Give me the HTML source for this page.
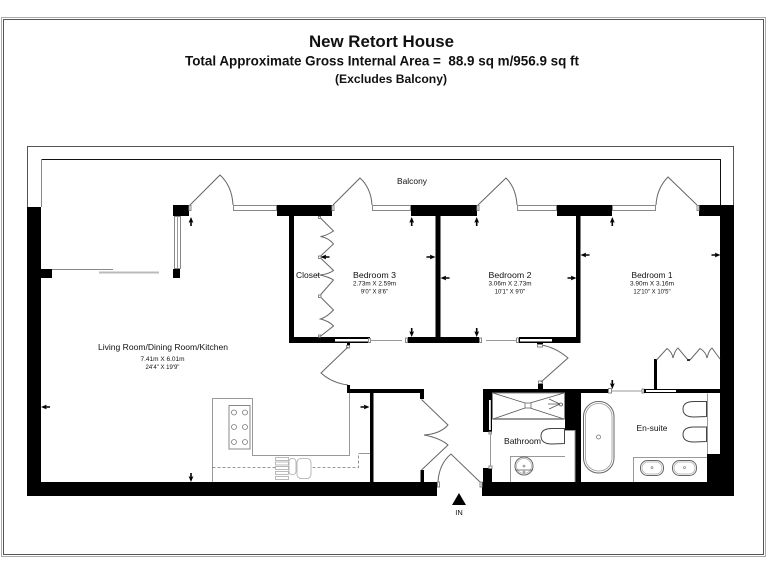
<!DOCTYPE html>
<html lang="en">
<head>
<meta charset="utf-8">
<title>New Retort House</title>
<style>
html,body{margin:0;padding:0;background:#fff;width:768px;height:576px;overflow:hidden}
svg{display:block;font-family:"Liberation Sans",sans-serif;filter:blur(.3px)}
.w{fill:#000}
.g{fill:none;stroke:#666;stroke-width:1}
.l{fill:none;stroke:#999;stroke-width:1}
.d{fill:none;stroke:#555;stroke-width:.8}
.win{fill:#fff;stroke:#888;stroke-width:1}
.t{fill:#111;text-anchor:middle}
</style>
</head>
<body>
<svg width="768" height="576" viewBox="0 0 768 576" xmlns="http://www.w3.org/2000/svg">
<defs>
<path id="au" d="M0 -4.5 L2.4 1.2 L.8 .6 L.8 4.500 L-.8 4.500 L-.8 .6 L-2.4 1.2 Z" fill="#000"/>
</defs>
<rect width="768" height="576" fill="#fff"/>

<!-- page frame -->
<rect x="1.500" y="17.500" width="764" height="539" fill="none" stroke="#aaa" stroke-width="1"/>
<rect x="3.500" y="19.500" width="760" height="535" fill="none" stroke="#555" stroke-width="1"/>

<!-- titles -->
<text x="381.500" y="47" text-anchor="middle" font-weight="bold" font-size="16.500" textLength="145" lengthAdjust="spacingAndGlyphs" fill="#111">New Retort House</text>
<text x="382" y="65.500" text-anchor="middle" font-weight="bold" font-size="13.500" textLength="394" lengthAdjust="spacingAndGlyphs" fill="#111" xml:space="preserve">Total Approximate Gross Internal Area =  88.9 sq m/956.9 sq ft</text>
<text x="391" y="83" text-anchor="middle" font-weight="bold" font-size="12" textLength="112" lengthAdjust="spacingAndGlyphs" fill="#111">(Excludes Balcony)</text>

<!-- balcony -->
<path d="M27.500 207V146.500H733.500V205" fill="none" stroke="#555" stroke-width="1"/>
<path d="M41.500 159.500H720.500V205" fill="none" stroke="#111" stroke-width="1"/>
<path d="M41.500 207V160" fill="none" stroke="#888" stroke-width="1"/>

<!-- outer walls -->
<rect class="w" x="27" y="207" width="14" height="289"/>
<rect class="w" x="27" y="482" width="410" height="14"/>
<rect class="w" x="482" y="482" width="252" height="14"/>
<rect class="w" x="720" y="205" width="14" height="291"/>
<rect class="w" x="699" y="205" width="21" height="11"/>
<rect class="w" x="707" y="454" width="13" height="28"/>

<!-- top wall segments -->
<rect class="w" x="173" y="205" width="16" height="11"/>
<rect class="w" x="277" y="205" width="55" height="11"/>
<rect class="w" x="411" y="205" width="66" height="11"/>
<rect class="w" x="557" y="205" width="55" height="11"/>

<!-- left stubs & corner window -->
<rect class="w" x="41" y="269" width="11" height="9"/>
<rect class="w" x="173" y="269" width="7" height="9"/>
<rect class="win" x="174.500" y="216.500" width="6" height="52"/>
<path class="l" d="M177.500 217V268"/>
<path d="M52 269.500H113" stroke="#888" stroke-width="1"/>
<path d="M99 272.500H159" stroke="#bbb" stroke-width="2"/>

<!-- top windows -->
<rect class="win" x="233.500" y="205.500" width="43" height="5"/>
<rect class="win" x="372.500" y="205.500" width="38" height="5"/>
<rect class="win" x="517.500" y="205.500" width="39" height="5"/>
<rect class="win" x="612.500" y="205.500" width="43" height="5"/>

<!-- balcony doors -->
<path class="g" d="M190 205L220 175Q232 186 233 205"/>
<path class="g" d="M333 205L360 178Q371 188 372 205"/>
<path class="g" d="M478 205L506 178Q516 188 517 205"/>
<path class="g" d="M656 205Q657 188 668 177L697 205"/>
<rect class="win" x="189" y="205.500" width="2" height="5"/>
<rect class="win" x="332" y="205.500" width="2" height="5"/>
<rect class="win" x="477" y="205.500" width="2" height="5"/>
<rect class="win" x="697" y="205.500" width="2" height="5"/>

<!-- bedroom walls -->
<rect class="w" x="289" y="216" width="5" height="127"/>
<rect class="w" x="289" y="337" width="81" height="6"/>
<rect fill="#fff" x="335" y="339" width="33" height="2.500"/>
<rect class="win" x="368.500" y="338.500" width="2" height="4"/>
<path class="l" d="M370 340.500H402"/>
<rect class="win" x="405.500" y="338" width="2" height="4.500"/>
<rect class="w" x="408" y="337" width="71" height="6"/>
<rect class="win" x="479.500" y="338" width="2" height="4.500"/>
<rect class="w" x="435.500" y="216" width="5" height="122"/>
<path class="l" d="M486 340.500H516"/>
<rect class="win" x="516.500" y="338" width="2" height="4.500"/>
<rect class="w" x="519" y="337" width="61" height="6"/>
<rect fill="#fff" x="520" y="339" width="32" height="2.500"/>
<rect class="w" x="576" y="216" width="4.500" height="127"/>

<!-- closet folding doors bedroom 3 -->
<path class="g" d="M319.500 217L333.500 231Q326 236 320.500 236.500Q329 238 333.500 244L319.500 257L333.500 270.500Q329 274 320 275Q329 277 333.500 280L319.500 296L333.500 310Q327 317 320.500 319Q329 321 333.500 326L319.500 337"/>
<rect class="win" x="318.500" y="216.500" width="2" height="2"/>
<rect class="win" x="318.500" y="256" width="2.500" height="2.500"/>
<rect class="win" x="318.500" y="295" width="2.500" height="2.500"/>
<rect class="win" x="318.500" y="335" width="2" height="2"/>
<path class="l" d="M320 275H316"/>

<!-- living door -->
<rect class="w" x="347" y="343" width="3" height="3"/>
<rect class="win" x="346.500" y="345.500" width="3" height="2.500"/>
<path class="g" d="M348 347L321 373Q332 383 348 385"/>

<!-- hall walls -->
<rect class="w" x="347" y="389" width="77" height="4"/>
<rect class="w" x="347" y="385" width="3" height="8"/>
<rect class="w" x="420" y="389" width="4" height="10"/>
<rect class="w" x="370" y="393" width="3.500" height="89"/>
<rect class="w" x="420.500" y="470" width="3.500" height="12"/>

<!-- hall closet doors -->
<path class="g" d="M421.500 399.500L448 425Q440 434 424 435Q440 438 448 445L421.500 470"/>

<!-- front door -->
<path class="g" d="M438 482Q439 464 451 454L480 482"/>
<rect class="win" x="437.500" y="482" width="2" height="5"/>
<rect class="win" x="480" y="482" width="2" height="5"/>
<path d="M459 493L466 505H452Z" fill="#000"/>

<!-- kitchen -->
<path class="l" d="M212.500 482V398.500H252.500V455.500H349.500V393"/>
<rect x="229" y="405.500" width="21" height="43.500" fill="#fff" stroke="#888"/>
<g fill="none" stroke="#777" stroke-width=".8">
<circle cx="234" cy="412.500" r="2.500"/><circle cx="245" cy="412.500" r="2.500"/>
<circle cx="234" cy="427" r="2.500"/><circle cx="245" cy="427" r="2.500"/>
<circle cx="234" cy="442" r="2.500"/><circle cx="245" cy="442" r="2.500"/>
</g>
<path d="M212.500 467.500H358.500V453.500" fill="none" stroke="#777" stroke-width=".8" stroke-dasharray="3 2"/>
<path class="l" d="M358.500 453.500H370"/>
<g fill="#fff" stroke="#aaa" stroke-width=".8">
<rect x="275.500" y="457.500" width="13" height="3"/><rect x="275.500" y="462" width="13" height="3"/>
<rect x="275.500" y="466.500" width="13" height="3"/><rect x="275.500" y="471.500" width="13" height="3"/>
<rect x="275.500" y="476.500" width="13" height="3"/>
<rect x="289" y="458.500" width="7" height="16" rx="3"/>
<rect x="297" y="458.500" width="14" height="20" rx="4"/>
</g>

<!-- bathroom -->
<rect class="w" x="483" y="389" width="125" height="4"/>
<rect class="w" x="483" y="389" width="9" height="43"/>
<rect fill="#fff" x="489" y="400" width="1.800" height="30"/>
<rect class="w" x="483" y="468" width="9" height="14"/>
<rect class="win" x="489" y="466" width="3" height="2.500"/>
<rect class="win" x="489" y="432" width="2.500" height="2"/>
<path class="l" d="M490.500 434V466"/>
<rect class="w" x="538" y="382" width="5" height="7"/>
<rect class="win" x="538.500" y="381" width="4" height="2.500"/>
<path class="g" d="M541 382L568 358Q555 347 541 345"/>
<rect class="w" x="537" y="343" width="6" height="1.500"/>
<rect class="win" x="537.500" y="344.500" width="5" height="2.500"/>

<rect class="w" x="565" y="393" width="16" height="37"/>
<rect class="w" x="575" y="430" width="6" height="52"/>

<!-- shower -->
<rect x="492.500" y="393" width="72" height="26" fill="#fff" stroke="#888"/>
<path class="d" d="M493 393L525 403M564 393L530 403M493 419L525 408M564 419L530 408"/>
<rect x="525" y="403" width="6" height="5" fill="#fff" stroke="#666" stroke-width=".8"/>
<path class="d" d="M549 399L560 404M548 404H560M549 409L560 404"/>
<circle cx="561" cy="404.500" r="1.500" fill="#fff" stroke="#555" stroke-width=".8"/>
<path d="M493 419H564" stroke="#777" stroke-width="1.500"/>

<!-- bathroom fixtures -->
<path class="l" d="M565 430.500H575V482"/>
<path d="M564.500 428.500H552Q541 428.500 541 436Q541 444 552 444L564.500 443.500Z" fill="#fff" stroke="#444"/>
<path class="l" d="M510.500 482V456.500H565"/>
<circle cx="524" cy="466" r="9" fill="#fff" stroke="#666"/>
<circle cx="524" cy="466" r="7.500" fill="none" stroke="#aaa" stroke-width=".7"/>
<path class="d" d="M515 470H533"/>
<circle cx="524" cy="466" r="1" fill="none" stroke="#666" stroke-width=".6"/>
<circle cx="524" cy="472" r="1" fill="none" stroke="#666" stroke-width=".6"/>

<!-- en-suite -->
<rect class="win" x="608.500" y="388.500" width="3" height="4.500"/>
<path class="l" d="M612 391H643"/>
<rect class="win" x="642" y="389" width="2" height="4"/>
<rect class="w" x="644" y="389" width="76" height="4"/>
<rect fill="#fff" x="646" y="390" width="30" height="2"/>
<rect class="w" x="654" y="359" width="3" height="31"/>
<path class="g" d="M656.500 360L667 348.500Q672 352 673 358Q675 350 678 348L688 360M690 360L700 348.500Q706 352 707 358Q709 350 712 348L720 359"/>
<rect x="687" y="359" width="3" height="2" fill="#333"/>

<rect x="583.500" y="401.500" width="30.500" height="71.500" rx="15" fill="#fff" stroke="#666"/>
<rect x="585.500" y="403.500" width="26.500" height="67.500" rx="13" fill="none" stroke="#999" stroke-width=".8"/>
<circle cx="598.500" cy="437" r="2" fill="none" stroke="#777" stroke-width=".8"/>

<path class="l" d="M707.500 393.500V454"/>
<path d="M706.500 401.500H694Q683 401.500 683 409Q683 417 694 417L706.500 416.500Z" fill="#fff" stroke="#444"/>
<path d="M706.500 427H694Q683 427 683 434.500Q683 442 694 442L706.500 441.500Z" fill="#fff" stroke="#444"/>
<path class="l" d="M633.500 482V457.500H707"/>
<rect x="640.500" y="460.500" width="23" height="15" rx="7" fill="#fff" stroke="#666"/>
<rect x="672.500" y="460.500" width="24" height="15" rx="7" fill="#fff" stroke="#666"/>
<rect x="642" y="462" width="20" height="12" rx="6" fill="none" stroke="#aaa" stroke-width=".7"/>
<rect x="674" y="462" width="21" height="12" rx="6" fill="none" stroke="#aaa" stroke-width=".7"/>
<circle cx="652" cy="467.500" r="1" fill="none" stroke="#666" stroke-width=".6"/>
<circle cx="684.500" cy="467.500" r="1" fill="none" stroke="#666" stroke-width=".6"/>

<!-- arrows -->
<use href="#au" transform="translate(191,221.500)"/>
<use href="#au" transform="translate(411.700,221.500)"/>
<use href="#au" transform="translate(476.700,221.500)"/>
<use href="#au" transform="translate(612.300,221.500)"/>
<use href="#au" transform="translate(411.700,332.500) rotate(180)"/>
<use href="#au" transform="translate(476.700,332.500) rotate(180)"/>
<use href="#au" transform="translate(612.300,384.500) rotate(180)"/>
<use href="#au" transform="translate(191,477.500) rotate(180)"/>
<use href="#au" transform="translate(325,257) rotate(-90)"/>
<use href="#au" transform="translate(431,257) rotate(90)"/>
<use href="#au" transform="translate(445,278) rotate(-90)"/>
<use href="#au" transform="translate(572,278) rotate(90)"/>
<use href="#au" transform="translate(585,255) rotate(-90)"/>
<use href="#au" transform="translate(716,255) rotate(90)"/>
<use href="#au" transform="translate(45.500,407) rotate(-90)"/>
<use href="#au" transform="translate(365,407) rotate(90)"/>

<!-- labels -->
<text class="t" x="412" y="184" font-size="8.500" textLength="30" lengthAdjust="spacingAndGlyphs">Balcony</text>
<text class="t" x="308" y="278" font-size="8.500" textLength="24" lengthAdjust="spacingAndGlyphs">Closet</text>
<text class="t" x="374.500" y="278" font-size="8.500" textLength="43" lengthAdjust="spacingAndGlyphs">Bedroom 3</text>
<text class="t" x="374.500" y="285.500" font-size="6" textLength="43" lengthAdjust="spacingAndGlyphs">2.73m X 2.59m</text>
<text class="t" x="374.500" y="293.500" font-size="6">9'0" X 8'6"</text>
<text class="t" x="510" y="278" font-size="8.500" textLength="43" lengthAdjust="spacingAndGlyphs">Bedroom 2</text>
<text class="t" x="510" y="285.500" font-size="6" textLength="43" lengthAdjust="spacingAndGlyphs">3.06m X 2.73m</text>
<text class="t" x="510" y="293.500" font-size="6">10'1" X 9'0"</text>
<text class="t" x="652" y="278" font-size="8.500" textLength="41" lengthAdjust="spacingAndGlyphs">Bedroom 1</text>
<text class="t" x="652" y="285.500" font-size="6" textLength="44" lengthAdjust="spacingAndGlyphs">3.90m X 3.16m</text>
<text class="t" x="652" y="293.500" font-size="6">12'10" X 10'5"</text>
<text class="t" x="163" y="350" font-size="8.500" textLength="130" lengthAdjust="spacingAndGlyphs">Living Room/Dining Room/Kitchen</text>
<text class="t" x="162.500" y="361" font-size="6" textLength="44" lengthAdjust="spacingAndGlyphs">7.41m X 6.01m</text>
<text class="t" x="162.500" y="369" font-size="6">24'4" X 19'9"</text>
<text class="t" x="652" y="431" font-size="8.500" textLength="31" lengthAdjust="spacingAndGlyphs">En-suite</text>
<text class="t" x="522.500" y="444" font-size="8.500" textLength="37" lengthAdjust="spacingAndGlyphs">Bathroom</text>
<text class="t" x="459" y="515" font-size="7.500">IN</text>
</svg>
</body>
</html>
